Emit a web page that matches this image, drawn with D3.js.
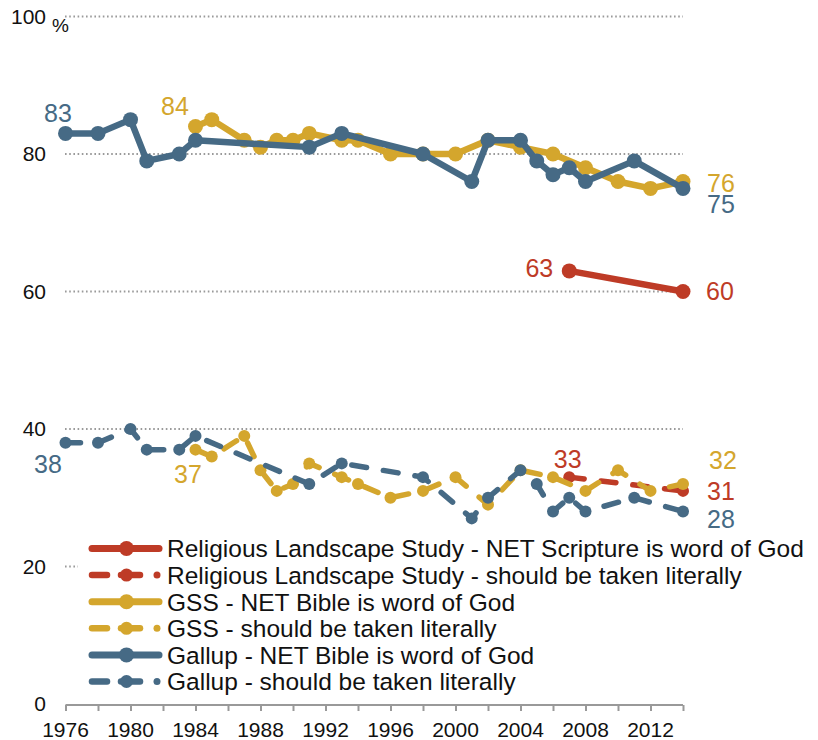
<!DOCTYPE html>
<html>
<head>
<meta charset="utf-8">
<script src="https://cdn.jsdelivr.net/npm/d3@7"></script>
<style>
  html, body { margin: 0; padding: 0; background: #fff; }
  svg { display: block; font-family: "Liberation Sans", Arial, sans-serif; }
</style>
</head>
<body>
<svg id="chart" width="818" height="740"></svg>
<script>
// ---- data ----
const gallupYears   = [1976,1978,1980,1981,1983,1984,1991,1993,1998,2001,2002,2004,2005,2006,2007,2008,2011,2014];
const gallupWord    = [83,83,85,79,80,82,81,83,80,76,82,82,79,77,78,76,79,75];
const gallupLiteral = [38,38,40,37,37,39,32,35,33,27,30,34,32,28,30,28,30,28];

const gssYears   = [1984,1985,1987,1988,1989,1990,1991,1993,1994,1996,1998,2000,2002,2004,2006,2008,2010,2012,2014];
const gssWord    = [84,85,82,81,82,82,83,82,82,80,80,80,82,81,80,78,76,75,76];
const gssLiteral = [37,36,39,34,31,32,35,33,32,30,31,33,29,34,33,31,34,31,32];

const rlsYears   = [2007,2014];
const rlsWord    = [63,60];
const rlsLiteral = [33,31];

const yTicks = [0,20,40,60,80,100];
const xTickYears = d3.range(1976, 2015, 2);
const xLabelYears = d3.range(1976, 2013, 4);

const legendLabels = [
  "Religious Landscape Study - NET Scripture is word of God",
  "Religious Landscape Study - should be taken literally",
  "GSS - NET Bible is word of God",
  "GSS - should be taken literally",
  "Gallup - NET Bible is word of God",
  "Gallup - should be taken literally"
];

const RED = "#BE3B26", GOLD = "#D4A62D", BLUE = "#466A85";

// ---- scales ----
const x = d3.scaleLinear().domain([1976, 2014]).range([65.5, 683]);
const y = d3.scaleLinear().domain([0, 100]).range([704, 16.5]);

const svg = d3.select("#chart");

// gridlines
svg.append("g").selectAll("line")
  .data(yTicks.filter(v => v > 0))
  .join("line")
  .attr("x1", 65).attr("x2", 683)
  .attr("y1", d => y(d)).attr("y2", d => y(d))
  .attr("stroke", "#9a9a9a").attr("stroke-width", 2)
  .attr("stroke-dasharray", "1.6,2.6");

// y labels
svg.append("g").selectAll("text")
  .data(yTicks)
  .join("text")
  .attr("x", 46).attr("y", d => y(d))
  .attr("dy", "0.35em")
  .attr("text-anchor", "end")
  .attr("font-size", 21)
  .attr("fill", "#111")
  .text(d => d);
svg.append("text")
  .attr("x", 52).attr("y", 32)
  .attr("font-size", 19).attr("fill", "#111")
  .text("%");

// x axis
const xAxis = d3.axisBottom(x)
  .tickValues(xTickYears)
  .tickSize(6)
  .tickFormat("");
const gx = svg.append("g").attr("transform", `translate(0,${y(0) + 1})`).call(xAxis);
gx.select(".domain").attr("stroke", "#999").attr("stroke-width", 2).attr("d", `M${x(1976)},0H${x(2014)}`);
gx.selectAll(".tick line").attr("stroke", "#999").attr("stroke-width", 2);
svg.append("g").selectAll("text")
  .data(xLabelYears)
  .join("text")
  .attr("x", d => x(d)).attr("y", 737)
  .attr("text-anchor", "middle")
  .attr("font-size", 21)
  .attr("fill", "#111")
  .text(d => d);

// ---- series ----
const series = [
  {years: rlsYears, vals: rlsWord, color: RED, dashed: false},
  {years: rlsYears, vals: rlsLiteral, color: RED, dashed: true},
  {years: gssYears, vals: gssWord, color: GOLD, dashed: false},
  {years: gssYears, vals: gssLiteral, color: GOLD, dashed: true},
  {years: gallupYears, vals: gallupWord, color: BLUE, dashed: false},
  {years: gallupYears, vals: gallupLiteral, color: BLUE, dashed: true}
];

const line = d3.line().x(d => x(d[0])).y(d => y(d[1]));

series.forEach(s => {
  const pts = s.years.map((yr, i) => [yr, s.vals[i]]);
  const g = svg.append("g");
  g.append("path")
    .datum(pts)
    .attr("d", line)
    .attr("fill", "none")
    .attr("stroke", s.color)
    .attr("stroke-width", s.dashed ? 5.5 : 6.5)
    .attr("stroke-linejoin", "round")
    .attr("stroke-linecap", "round")
    .attr("stroke-dasharray", s.dashed ? "15,17" : null);
  g.selectAll("circle")
    .data(pts)
    .join("circle")
    .attr("cx", d => x(d[0])).attr("cy", d => y(d[1]))
    .attr("r", s.dashed ? 6 : 7.5)
    .attr("fill", s.color);
});

// ---- value labels ----
const labels = [
  {yr: gallupYears[0], v: gallupWord[0], c: BLUE, dx: -7.5, dy: -11, a: "middle"},
  {yr: gssYears[0], v: gssWord[0], c: GOLD, dx: -20.5, dy: -11.5, a: "middle"},
  {yr: 2014, v: gssWord[gssWord.length-1], c: GOLD, dx: 24, dy: 10.5, a: "start"},
  {yr: 2014, v: gallupWord[gallupWord.length-1], c: BLUE, dx: 24, dy: 24.6, a: "start"},
  {yr: rlsYears[0], v: rlsWord[0], c: RED, dx: -16, dy: 6, a: "end"},
  {yr: 2014, v: rlsWord[1], c: RED, dx: 23, dy: 8.5, a: "start"},
  {yr: gallupYears[0], v: gallupLiteral[0], c: BLUE, dx: -17.5, dy: 30, a: "middle"},
  {yr: gssYears[0], v: gssLiteral[0], c: GOLD, dx: -7.5, dy: 33.4, a: "middle"},
  {yr: rlsYears[0], v: rlsLiteral[0], c: RED, dx: -1.6, dy: -9.6, a: "middle"},
  {yr: 2014, v: gssLiteral[gssLiteral.length-1], c: GOLD, dx: 26, dy: -15.5, a: "start"},
  {yr: 2014, v: rlsLiteral[1], c: RED, dx: 24, dy: 9.6, a: "start"},
  {yr: 2014, v: gallupLiteral[gallupLiteral.length-1], c: BLUE, dx: 24, dy: 16.5, a: "start"}
];
svg.append("g").selectAll("text")
  .data(labels)
  .join("text")
  .attr("x", d => x(d.yr) + d.dx)
  .attr("y", d => y(d.v) + d.dy)
  .attr("text-anchor", d => d.a)
  .attr("font-size", 25)
  .attr("fill", d => d.c)
  .text(d => d.v);

// ---- legend ----
const lg = svg.append("g");
lg.append("rect").attr("x", 78).attr("y", 534).attr("width", 740).attr("height", 162).attr("fill", "#fff");
const legendColors = [RED, RED, GOLD, GOLD, BLUE, BLUE];
legendLabels.forEach((lab, i) => {
  const cy = 548.5 + i * 26.6;
  const col = legendColors[i];
  const row = lg.append("g");
  if (i % 2 === 0) {
    row.append("line").attr("x1", 92).attr("x2", 159).attr("y1", cy).attr("y2", cy)
      .attr("stroke", col).attr("stroke-width", 7).attr("stroke-linecap", "round");
    row.append("circle").attr("cx", 126.5).attr("cy", cy).attr("r", 7.5).attr("fill", col);
  } else {
    row.append("line").attr("x1", 92).attr("x2", 107).attr("y1", cy).attr("y2", cy)
      .attr("stroke", col).attr("stroke-width", 6.5).attr("stroke-linecap", "round");
    row.append("line").attr("x1", 121).attr("x2", 140).attr("y1", cy).attr("y2", cy)
      .attr("stroke", col).attr("stroke-width", 6.5).attr("stroke-linecap", "round");
    row.append("circle").attr("cx", 126.5).attr("cy", cy).attr("r", 6.5).attr("fill", col);
    row.append("circle").attr("cx", 157).attr("cy", cy).attr("r", 3.5).attr("fill", col);
  }
  row.append("text").attr("x", 167).attr("y", cy).attr("dy", "0.36em")
    .attr("font-size", 24.5).attr("fill", "#111").text(lab);
});
</script>
</body>
</html>
